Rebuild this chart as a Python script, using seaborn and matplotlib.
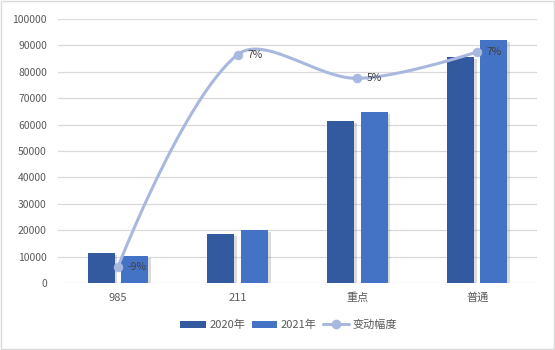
import numpy as np
import pandas as pd
import matplotlib
matplotlib.use("Agg")
import matplotlib.pyplot as plt
import matplotlib.patheffects as pe
from matplotlib.patches import Patch, Rectangle
from matplotlib.lines import Line2D
import seaborn as sns

categories = ["985", "211", "重点", "普通"]
values_2020 = [11400, 18600, 61400, 85600]
values_2021 = [10300, 20100, 64800, 92000]
change_pct = [-0.09, 0.071, 0.053, 0.073]
change_labels = ["-9%", "7%", "5%", "7%"]
series_names = ["2020年", "2021年"]
line_name = "变动幅度"
y_ticks = list(range(0, 100001, 10000))

sns.set_theme(style="white")
plt.rcParams["font.family"] = ["Noto Sans CJK SC", "DejaVu Sans"]

c2020 = "#335a9f"
c2021 = "#4472c4"
cline = "#a9b8de"
tick_col = "#595959"

df = pd.DataFrame({
    "cat": categories * 2,
    "val": values_2020 + values_2021,
    "year": [series_names[0]] * 4 + [series_names[1]] * 4,
})

fig = plt.figure(figsize=(5.55, 3.5), dpi=100)
fig.patch.set_facecolor("white")
fig.add_artist(Rectangle((0.002, 0.002), 0.996, 0.996, transform=fig.transFigure,
                         fill=False, edgecolor="#d9d9d9", lw=1.0))

ax = fig.add_axes([58 / 555, 1 - 283 / 350, 479 / 555, 264 / 350])
sns.barplot(data=df, x="cat", y="val", hue="year", order=categories,
            hue_order=series_names, palette=[c2020, c2021], width=0.56, gap=0.2,
            saturation=1, ax=ax, legend=False, zorder=3, linewidth=0, edgecolor="none")
for p in ax.patches:
    p.set_linewidth(0)
    p.set_path_effects([pe.SimplePatchShadow(offset=(2, -1.5), shadow_rgbFace="#888888", alpha=0.3),
                        pe.Normal()])
ax.set_ylim(0, 100000)
ax.set_xlim(-0.5, 3.5)
ax.set_yticks(y_ticks)
ax.set_yticklabels([str(t) for t in y_ticks])
ax.yaxis.grid(True, color="#d9d9d9", lw=0.9, zorder=0)
ax.set_axisbelow(True)
for s in ax.spines.values():
    s.set_visible(False)
ax.tick_params(axis="both", length=0, colors=tick_col, labelsize=7.5)
ax.tick_params(axis="x", pad=7, labelsize=8)
ax.tick_params(axis="y", pad=8)
ax.set_xlabel("")
ax.set_ylabel("")

# smoothed line on secondary axis (Excel-like smoothing computed in screen space)
ax2 = ax.twinx()
ax2.set_ylim(-0.1021, 0.098)
ax2.axis("off")
xs = np.arange(len(categories), dtype=float)
ys = np.array(change_pct)
P = ax2.transData.transform(np.column_stack([xs, ys]))
n = len(P)
t = np.linspace(0, 1, 60)
curve = []
for i in range(n - 1):
    b0, b3 = P[i], P[i + 1]
    d = np.linalg.norm(b3 - b0)
    if i > 0:
        T = P[i + 1] - P[i - 1]
        dp = np.linalg.norm(P[i] - P[i - 1])
        b1 = b0 + T * d / (d + dp) / 3
    else:
        b1 = b0
    if i + 2 < n:
        T = P[i + 2] - P[i]
        dn = np.linalg.norm(P[i + 2] - P[i + 1])
        b2 = b3 - T * d / (d + dn) / 3
    else:
        b2 = b3
    seg = ((1 - t) ** 3)[:, None] * b0 + (3 * (1 - t) ** 2 * t)[:, None] * b1 \
        + (3 * (1 - t) * t ** 2)[:, None] * b2 + (t ** 3)[:, None] * b3
    curve.append(seg)
curve = ax2.transData.inverted().transform(np.vstack(curve))
ax2.plot(curve[:, 0], curve[:, 1], color=cline, lw=2.2, zorder=5, solid_capstyle="round")
sns.scatterplot(x=xs, y=ys, color=cline, s=40, edgecolor=cline, ax=ax2, zorder=6, legend=False)
for x, y, lab in zip(xs, ys, change_labels):
    ax2.annotate(lab, (x, y), xytext=(7, 0), textcoords="offset points",
                 ha="left", va="center", fontsize=7.5, color="#404040", zorder=7)

handles = [Patch(facecolor=c2020, edgecolor="none"),
           Patch(facecolor=c2021, edgecolor="none"),
           Line2D([0], [0], color=cline, lw=2.2, marker="o", markersize=6)]
fig.legend(handles, series_names + [line_name], loc="center", bbox_to_anchor=(0.52, 0.072),
           ncol=3, frameon=False, fontsize=8, handlelength=2.3, handleheight=0.6,
           columnspacing=0.6, handletextpad=0.3, labelcolor=tick_col)

fig.savefig("out.png", dpi=100, facecolor="white")
